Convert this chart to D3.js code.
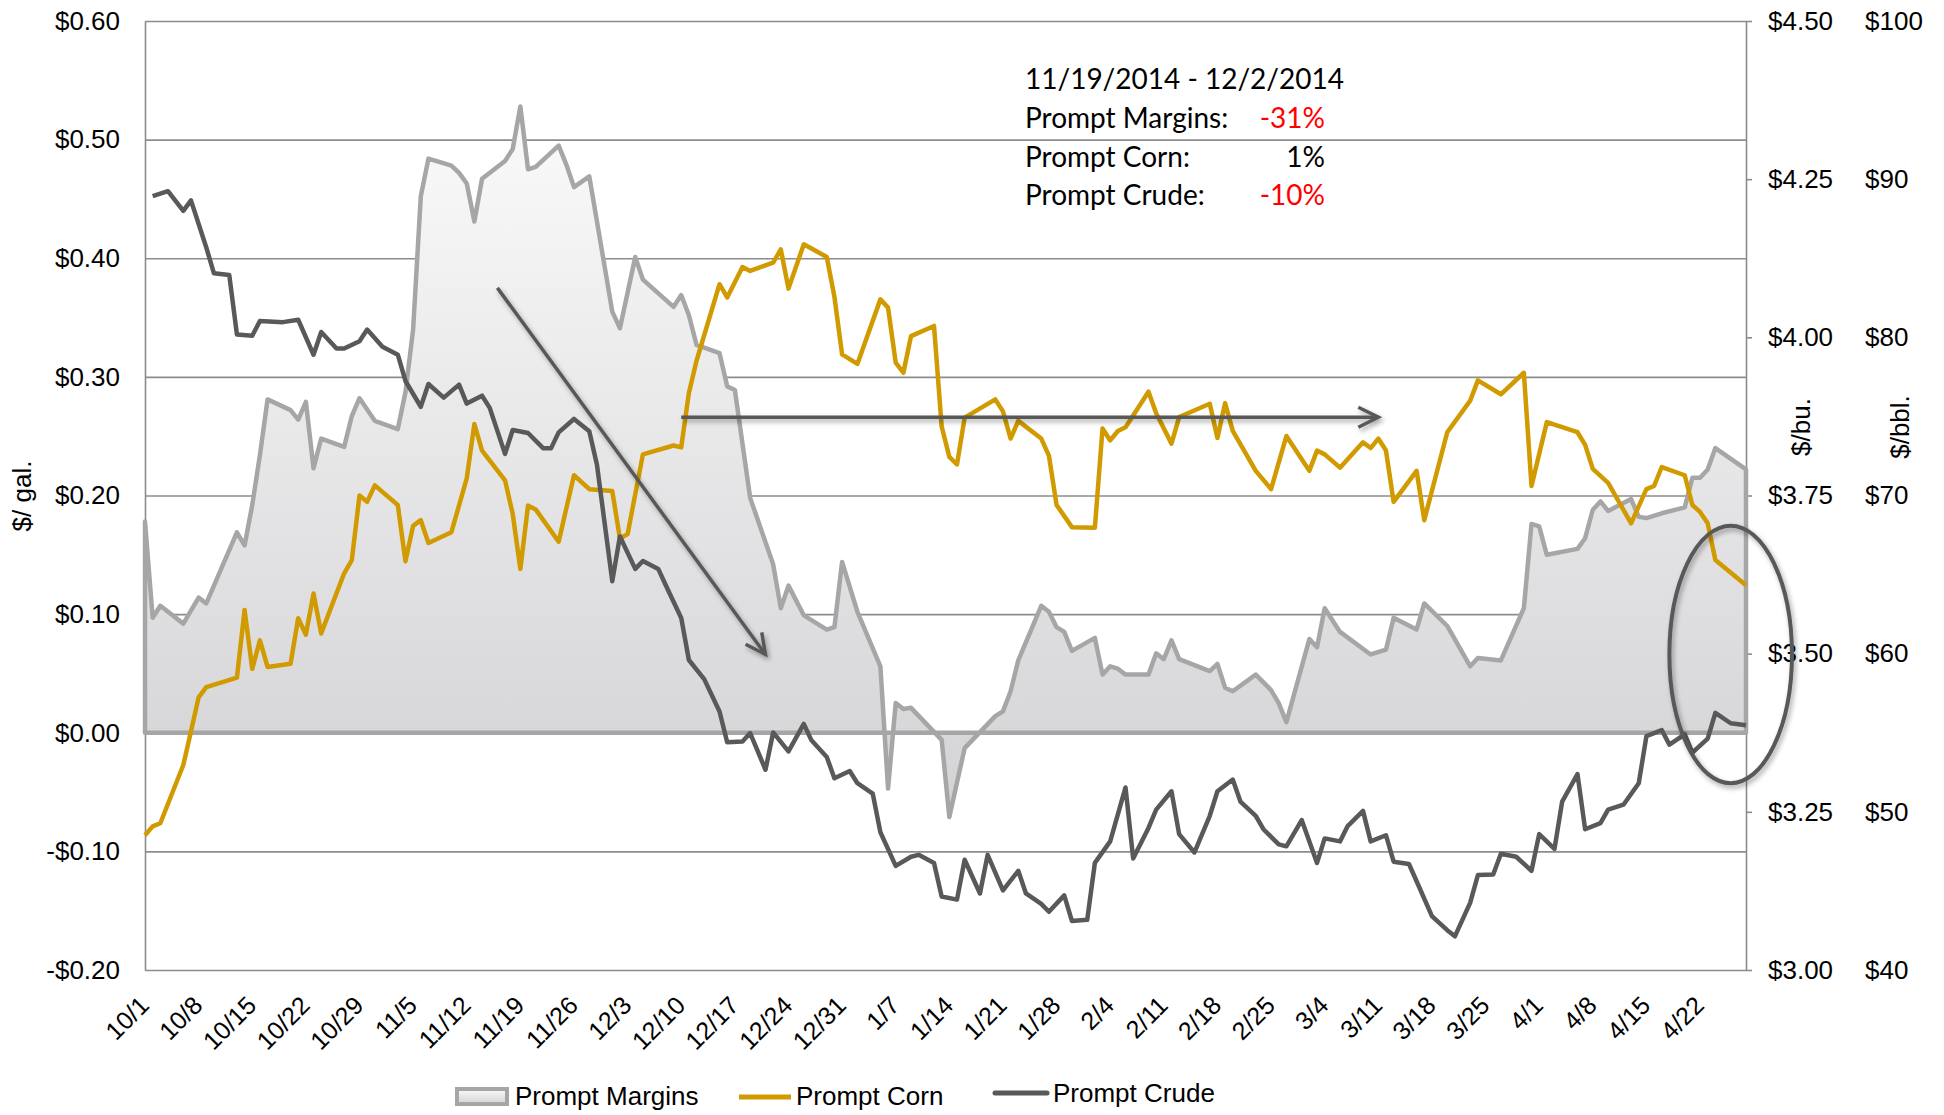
<!DOCTYPE html>
<html>
<head>
<meta charset="utf-8">
<script src="https://cdn.jsdelivr.net/npm/d3@7"></script>
<style>
  body { margin: 0; background: #ffffff; }
  #chart svg { display: block; }
</style>
</head>
<body>
<div id="chart"></div>
<script>
// Prompt margins ($/gal.)
var marginPoints = [
    ["10/1/14", 0.178], ["10/2/14", 0.097], ["10/3/14", 0.107], ["10/6/14", 0.092], ["10/7/14", 0.103],
    ["10/8/14", 0.114], ["10/9/14", 0.109], ["10/13/14", 0.169], ["10/14/14", 0.158], ["10/15/14", 0.192],
    ["10/16/14", 0.234], ["10/17/14", 0.281], ["10/20/14", 0.272], ["10/21/14", 0.264], ["10/22/14", 0.279],
    ["10/23/14", 0.223], ["10/24/14", 0.248], ["10/27/14", 0.241], ["10/28/14", 0.267], ["10/29/14", 0.282],
    ["10/31/14", 0.263], ["11/3/14", 0.256], ["11/4/14", 0.287], ["11/5/14", 0.340], ["11/6/14", 0.452],
    ["11/7/14", 0.484], ["11/10/14", 0.478], ["11/11/14", 0.472], ["11/12/14", 0.463], ["11/13/14", 0.431],
    ["11/14/14", 0.467], ["11/17/14", 0.482], ["11/18/14", 0.492], ["11/19/14", 0.528], ["11/20/14", 0.475],
    ["11/21/14", 0.477], ["11/24/14", 0.495], ["11/25/14", 0.479], ["11/26/14", 0.460], ["11/28/14", 0.469],
    ["12/1/14", 0.355], ["12/2/14", 0.341], ["12/4/14", 0.401], ["12/5/14", 0.382], ["12/9/14", 0.359],
    ["12/10/14", 0.369], ["12/11/14", 0.352], ["12/12/14", 0.327], ["12/15/14", 0.320], ["12/16/14", 0.292],
    ["12/17/14", 0.289], ["12/19/14", 0.198], ["12/22/14", 0.142], ["12/23/14", 0.105], ["12/24/14", 0.124],
    ["12/26/14", 0.099], ["12/29/14", 0.087], ["12/30/14", 0.089], ["12/31/14", 0.144], ["1/2/15", 0.102],
    ["1/5/15", 0.056], ["1/6/15", -0.047], ["1/7/15", 0.025], ["1/8/15", 0.020], ["1/9/15", 0.021],
    ["1/13/15", -0.006], ["1/14/15", -0.071], ["1/16/15", -0.013], ["1/20/15", 0.014], ["1/21/15", 0.018],
    ["1/22/15", 0.035], ["1/23/15", 0.061], ["1/26/15", 0.107], ["1/27/15", 0.102], ["1/28/15", 0.089],
    ["1/29/15", 0.085], ["1/30/15", 0.069], ["2/2/15", 0.080], ["2/3/15", 0.049], ["2/4/15", 0.056],
    ["2/5/15", 0.054], ["2/6/15", 0.049], ["2/9/15", 0.049], ["2/10/15", 0.067], ["2/11/15", 0.062],
    ["2/12/15", 0.078], ["2/13/15", 0.062], ["2/17/15", 0.052], ["2/18/15", 0.058], ["2/19/15", 0.038],
    ["2/20/15", 0.035], ["2/23/15", 0.049], ["2/25/15", 0.036], ["2/26/15", 0.025], ["2/27/15", 0.009],
    ["3/2/15", 0.079], ["3/3/15", 0.072], ["3/4/15", 0.105], ["3/6/15", 0.085], ["3/10/15", 0.066],
    ["3/12/15", 0.070], ["3/13/15", 0.097], ["3/16/15", 0.087], ["3/17/15", 0.109], ["3/20/15", 0.090],
    ["3/23/15", 0.056], ["3/24/15", 0.063], ["3/27/15", 0.061], ["3/30/15", 0.105], ["3/31/15", 0.176],
    ["4/1/15", 0.174], ["4/2/15", 0.150], ["4/6/15", 0.155], ["4/7/15", 0.164], ["4/8/15", 0.188],
    ["4/9/15", 0.195], ["4/10/15", 0.187], ["4/13/15", 0.197], ["4/14/15", 0.182], ["4/15/15", 0.181],
    ["4/17/15", 0.185], ["4/20/15", 0.190], ["4/21/15", 0.215], ["4/22/15", 0.215], ["4/23/15", 0.222],
    ["4/24/15", 0.240], ["4/28/15", 0.222]
];

// Prompt corn ($/bu.)
var cornPoints = [
    ["10/1/14", 3.213], ["10/2/14", 3.227], ["10/3/14", 3.232], ["10/6/14", 3.324], ["10/7/14", 3.377],
    ["10/8/14", 3.431], ["10/9/14", 3.447], ["10/13/14", 3.462], ["10/14/14", 3.569], ["10/15/14", 3.476],
    ["10/16/14", 3.521], ["10/17/14", 3.479], ["10/20/14", 3.484], ["10/21/14", 3.556], ["10/22/14", 3.530],
    ["10/23/14", 3.595], ["10/24/14", 3.532], ["10/27/14", 3.627], ["10/28/14", 3.648], ["10/29/14", 3.750],
    ["10/30/14", 3.740], ["10/31/14", 3.766], ["11/3/14", 3.735], ["11/4/14", 3.646], ["11/5/14", 3.702],
    ["11/6/14", 3.711], ["11/7/14", 3.675], ["11/10/14", 3.692], ["11/12/14", 3.777], ["11/13/14", 3.863],
    ["11/14/14", 3.821], ["11/17/14", 3.774], ["11/18/14", 3.721], ["11/19/14", 3.634], ["11/20/14", 3.734],
    ["11/21/14", 3.728], ["11/24/14", 3.677], ["11/26/14", 3.782], ["11/28/14", 3.760], ["12/1/14", 3.757],
    ["12/2/14", 3.682], ["12/3/14", 3.689], ["12/5/14", 3.815], ["12/9/14", 3.829], ["12/10/14", 3.826],
    ["12/11/14", 3.912], ["12/12/14", 3.963], ["12/15/14", 4.084], ["12/16/14", 4.063], ["12/17/14", 4.087],
    ["12/18/14", 4.111], ["12/19/14", 4.105], ["12/22/14", 4.118], ["12/23/14", 4.139], ["12/24/14", 4.077],
    ["12/26/14", 4.147], ["12/29/14", 4.127], ["12/30/14", 4.064], ["12/31/14", 3.973], ["1/2/15", 3.958],
    ["1/5/15", 4.060], ["1/6/15", 4.047], ["1/7/15", 3.960], ["1/8/15", 3.944], ["1/9/15", 4.002],
    ["1/12/15", 4.018], ["1/13/15", 3.859], ["1/14/15", 3.811], ["1/15/15", 3.799], ["1/16/15", 3.873],
    ["1/20/15", 3.902], ["1/21/15", 3.883], ["1/22/15", 3.840], ["1/23/15", 3.868], ["1/26/15", 3.840],
    ["1/27/15", 3.813], ["1/28/15", 3.735], ["1/30/15", 3.700], ["2/2/15", 3.699], ["2/3/15", 3.856],
    ["2/4/15", 3.837], ["2/5/15", 3.852], ["2/6/15", 3.858], ["2/9/15", 3.914], ["2/10/15", 3.880],
    ["2/12/15", 3.832], ["2/13/15", 3.874], ["2/17/15", 3.895], ["2/18/15", 3.841], ["2/19/15", 3.896],
    ["2/20/15", 3.852], ["2/23/15", 3.789], ["2/25/15", 3.760], ["2/27/15", 3.844], ["3/2/15", 3.789],
    ["3/3/15", 3.821], ["3/4/15", 3.815], ["3/6/15", 3.794], ["3/9/15", 3.834], ["3/10/15", 3.825],
    ["3/11/15", 3.840], ["3/12/15", 3.821], ["3/13/15", 3.740], ["3/16/15", 3.789], ["3/17/15", 3.711],
    ["3/20/15", 3.850], ["3/23/15", 3.900], ["3/24/15", 3.932], ["3/27/15", 3.910], ["3/30/15", 3.944],
    ["3/31/15", 3.765], ["4/2/15", 3.866], ["4/6/15", 3.850], ["4/7/15", 3.830], ["4/8/15", 3.792],
    ["4/10/15", 3.770], ["4/13/15", 3.706], ["4/15/15", 3.760], ["4/16/15", 3.765], ["4/17/15", 3.795],
    ["4/20/15", 3.782], ["4/21/15", 3.735], ["4/22/15", 3.724], ["4/23/15", 3.706], ["4/24/15", 3.648],
    ["4/28/15", 3.608]
];

// Prompt crude ($/bbl.)
var crudePoints = [
    ["10/2/14", 88.93], ["10/4/14", 89.24], ["10/6/14", 88.00], ["10/7/14", 88.66], ["10/9/14", 85.68],
    ["10/10/14", 84.05], ["10/12/14", 83.94], ["10/13/14", 80.18], ["10/15/14", 80.10], ["10/16/14", 81.03],
    ["10/19/14", 80.96], ["10/21/14", 81.11], ["10/23/14", 78.90], ["10/24/14", 80.34], ["10/26/14", 79.29],
    ["10/27/14", 79.29], ["10/29/14", 79.75], ["10/30/14", 80.49], ["11/1/14", 79.41], ["11/3/14", 78.90],
    ["11/4/14", 77.24], ["11/6/14", 75.61], ["11/7/14", 77.05], ["11/9/14", 76.19], ["11/11/14", 77.01],
    ["11/12/14", 75.81], ["11/14/14", 76.31], ["11/15/14", 75.54], ["11/17/14", 72.63], ["11/18/14", 74.14],
    ["11/20/14", 73.95], ["11/22/14", 72.98], ["11/23/14", 72.98], ["11/24/14", 73.99], ["11/26/14", 74.84],
    ["11/28/14", 74.06], ["11/29/14", 71.94], ["12/1/14", 64.58], ["12/2/14", 67.41], ["12/4/14", 65.36],
    ["12/5/14", 65.86], ["12/7/14", 65.36], ["12/8/14", 64.31], ["12/10/14", 62.26], ["12/11/14", 59.60],
    ["12/13/14", 58.39], ["12/15/14", 56.34], ["12/16/14", 54.40], ["12/18/14", 54.44], ["12/19/14", 54.98],
    ["12/21/14", 52.66], ["12/22/14", 55.02], ["12/24/14", 53.82], ["12/26/14", 55.56], ["12/27/14", 54.52],
    ["12/29/14", 53.47], ["12/30/14", 52.12], ["1/1/15", 52.58], ["1/2/15", 51.81], ["1/4/15", 51.15],
    ["1/5/15", 48.71], ["1/7/15", 46.58], ["1/9/15", 47.16], ["1/10/15", 47.28], ["1/12/15", 46.77],
    ["1/13/15", 44.65], ["1/15/15", 44.45], ["1/16/15", 46.97], ["1/18/15", 44.84], ["1/19/15", 47.28],
    ["1/21/15", 45.03], ["1/23/15", 46.27], ["1/24/15", 44.84], ["1/26/15", 44.18], ["1/27/15", 43.68],
    ["1/29/15", 44.72], ["1/30/15", 43.10], ["2/1/15", 43.17], ["2/2/15", 46.77], ["2/4/15", 48.13],
    ["2/6/15", 51.54], ["2/7/15", 47.05], ["2/9/15", 48.98], ["2/10/15", 50.14], ["2/12/15", 51.30],
    ["2/13/15", 48.59], ["2/15/15", 47.43], ["2/17/15", 49.75], ["2/18/15", 51.30], ["2/20/15", 52.04],
    ["2/21/15", 50.65], ["2/23/15", 49.75], ["2/24/15", 48.90], ["2/26/15", 47.94], ["2/27/15", 47.82],
    ["3/1/15", 49.48], ["3/3/15", 46.77], ["3/4/15", 48.32], ["3/6/15", 48.13], ["3/7/15", 49.10],
    ["3/9/15", 50.06], ["3/10/15", 48.13], ["3/12/15", 48.52], ["3/13/15", 46.85], ["3/15/15", 46.70],
    ["3/16/15", 45.61], ["3/18/15", 43.41], ["3/20/15", 42.52], ["3/21/15", 42.13], ["3/23/15", 44.26],
    ["3/24/15", 46.00], ["3/26/15", 46.04], ["3/27/15", 47.35], ["3/29/15", 47.16], ["3/31/15", 46.27],
    ["4/1/15", 48.59], ["4/3/15", 47.66], ["4/4/15", 50.65], ["4/6/15", 52.39], ["4/7/15", 48.90],
    ["4/9/15", 49.29], ["4/10/15", 50.14], ["4/12/15", 50.45], ["4/14/15", 51.81], ["4/15/15", 54.79],
    ["4/17/15", 55.17], ["4/18/15", 54.25], ["4/20/15", 54.90], ["4/21/15", 53.74], ["4/23/15", 54.63],
    ["4/24/15", 56.26], ["4/26/15", 55.60], ["4/28/15", 55.48]
];

// Axes: ticks and labels
var firstDay = "10/1/14";
var lastDay = "4/28/15";
var dateTicks = ["10/1/14", "10/8/14", "10/15/14", "10/22/14", "10/29/14", "11/5/14", "11/12/14",
    "11/19/14", "11/26/14", "12/3/14", "12/10/14", "12/17/14", "12/24/14", "12/31/14", "1/7/15",
    "1/14/15", "1/21/15", "1/28/15", "2/4/15", "2/11/15", "2/18/15", "2/25/15", "3/4/15", "3/11/15",
    "3/18/15", "3/25/15", "4/1/15", "4/8/15", "4/15/15", "4/22/15"];
var marginTicks = [-0.2, -0.1, 0, 0.1, 0.2, 0.3, 0.4, 0.5, 0.6];
var cornTicks = [3.00, 3.25, 3.50, 3.75, 4.00, 4.25, 4.50];
var crudeTicks = [40, 50, 60, 70, 80, 90, 100];
var axisTitles = ["$/ gal.", "$/bu.", "$/bbl."];
var legendNames = ["Prompt Margins", "Prompt Corn", "Prompt Crude"];

// Text box in the chart
var noteTitle = "11/19/2014 - 12/2/2014";
var noteRows = ["Prompt Margins:", "Prompt Corn:", "Prompt Crude:"];
var noteChanges = ["-31%", "1%", "-10%"];

function init() {
    var w = 1944, h = 1115;
    var left = 145, right = 1746, top = 21, bottom = 970;

    var gridColor = "#8c8c8c";
    var marginColor = "#a6a6a6";
    var cornColor = "#d09a00";
    var crudeColor = "#595959";
    var axisFont = "'Liberation Sans', Arial, sans-serif";
    var noteFont = "Lato, 'Open Sans', sans-serif";

    var parseDate = d3.utcParse("%m/%d/%y");

    var svg = d3.select("#chart")
                .append("svg")
                .attr("width", w)
                .attr("height", h);

    svg.append("rect").attr("width", w).attr("height", h).attr("fill", "#ffffff");

    // Scales: one time axis, three value axes
    var x = d3.scaleUtc()
              .domain([parseDate(firstDay), parseDate(lastDay)])
              .range([left, right]);
    var yMargin = d3.scaleLinear().domain([-0.2, 0.6]).range([bottom, top]);
    var yCorn = d3.scaleLinear().domain([3, 4.5]).range([bottom, top]);
    var yCrude = d3.scaleLinear().domain([40, 100]).range([bottom, top]);

    var margins = marginPoints.map(function(p) { return { date: parseDate(p[0]), value: p[1] }; });
    var corn = cornPoints.map(function(p) { return { date: parseDate(p[0]), value: p[1] }; });
    var crude = crudePoints.map(function(p) { return { date: parseDate(p[0]), value: p[1] }; });

    // defs: area gradient, soft shadow, open arrow head
    var defs = svg.append("defs");
    var grad = defs.append("linearGradient")
                   .attr("id", "marginFill")
                   .attr("x1", 0).attr("y1", 0).attr("x2", 0).attr("y2", 1);
    grad.append("stop").attr("offset", "0%").attr("stop-color", "#fafafa");
    grad.append("stop").attr("offset", "100%").attr("stop-color", "#d3d3d6");

    var shadow = defs.append("filter")
                     .attr("id", "shadow")
                     .attr("filterUnits", "userSpaceOnUse")
                     .attr("x", 0).attr("y", 0).attr("width", w).attr("height", h);
    shadow.append("feDropShadow")
          .attr("dx", 2).attr("dy", 3)
          .attr("stdDeviation", 2.5)
          .attr("flood-color", "#000")
          .attr("flood-opacity", 0.35);

    defs.append("marker")
        .attr("id", "arrowHead")
        .attr("viewBox", "-2 -12 26 24")
        .attr("markerUnits", "userSpaceOnUse")
        .attr("markerWidth", 26)
        .attr("markerHeight", 24)
        .attr("refX", 20)
        .attr("refY", 0)
        .attr("orient", "auto")
        .append("path")
        .attr("d", "M0,-10L20,0L0,10")
        .attr("fill", "none")
        .attr("stroke", crudeColor)
        .attr("stroke-width", 3.5)
        .attr("stroke-linejoin", "miter");

    // Horizontal gridlines
    var grid = svg.append("g")
                  .attr("transform", "translate(" + left + ",0)")
                  .call(d3.axisLeft(yMargin)
                          .tickValues(marginTicks)
                          .tickSize(-(right - left))
                          .tickFormat(""));
    grid.select(".domain").remove();
    grid.selectAll("line").attr("stroke", gridColor).attr("stroke-width", 1.6);

    // Left axis ($/gal.)
    var money = function(d) {
        return (d < 0 ? "-$" : "$") + Math.abs(d).toFixed(2);
    };
    var leftAxis = svg.append("g")
                      .attr("transform", "translate(" + left + ",0)")
                      .call(d3.axisLeft(yMargin)
                              .tickValues(marginTicks)
                              .tickSize(0)
                              .tickSizeOuter(0)
                              .tickPadding(25)
                              .tickFormat(money));
    leftAxis.select(".domain").attr("stroke", gridColor).attr("stroke-width", 1.6);
    leftAxis.selectAll("text")
            .attr("font-family", axisFont)
            .attr("font-size", 26)
            .attr("fill", "#000");

    // Right axis ($/bu.)
    var cornAxis = svg.append("g")
                      .attr("transform", "translate(" + right + ",0)")
                      .call(d3.axisRight(yCorn)
                              .tickValues(cornTicks)
                              .tickSize(6)
                              .tickSizeOuter(0)
                              .tickPadding(16)
                              .tickFormat(function(d) { return "$" + d.toFixed(2); }));
    cornAxis.select(".domain").attr("stroke", gridColor).attr("stroke-width", 1.6);
    cornAxis.selectAll("line").attr("stroke", gridColor).attr("stroke-width", 1.6);
    cornAxis.selectAll("text")
            .attr("font-family", axisFont)
            .attr("font-size", 26)
            .attr("fill", "#000");

    // Second right labels ($/bbl.)
    var crudeAxis = svg.append("g")
                       .attr("transform", "translate(1865,0)")
                       .call(d3.axisRight(yCrude)
                               .tickValues(crudeTicks)
                               .tickSize(0)
                               .tickPadding(0)
                               .tickFormat(function(d) { return "$" + d; }));
    crudeAxis.select(".domain").remove();
    crudeAxis.selectAll("text")
             .attr("font-family", axisFont)
             .attr("font-size", 26)
             .attr("fill", "#000");

    // Bottom axis: weekly dates, slanted
    var bottomAxis = svg.append("g")
                        .attr("transform", "translate(0," + bottom + ")")
                        .call(d3.axisBottom(x)
                                .tickValues(dateTicks.map(parseDate))
                                .tickSize(0)
                                .tickFormat(d3.utcFormat("%-m/%-d")));
    bottomAxis.select(".domain").remove();
    bottomAxis.selectAll("text")
              .attr("x", 0)
              .attr("y", 0)
              .attr("dy", 0)
              .attr("transform", "translate(5,37) rotate(-45)")
              .style("text-anchor", "end")
              .attr("font-family", axisFont)
              .attr("font-size", 25)
              .attr("fill", "#000");

    // Axis titles
    var titlePos = [[31, 496], [1810, 427], [1909, 427]];
    svg.selectAll("text.axisTitle")
       .data(axisTitles)
       .enter()
       .append("text")
       .attr("class", "axisTitle")
       .attr("transform", function(d, i) {
           return "translate(" + titlePos[i][0] + "," + titlePos[i][1] + ") rotate(-90)";
       })
       .attr("text-anchor", "middle")
       .attr("font-family", axisFont)
       .attr("font-size", 26)
       .attr("fill", "#000")
       .text(function(d) { return d; });

    // Margins area (filled down to zero, bordered all round)
    var area = d3.area()
                 .x(function(d) { return x(d.date); })
                 .y0(yMargin(0))
                 .y1(function(d) { return yMargin(d.value); });
    svg.append("path")
       .datum(margins)
       .attr("d", area)
       .attr("fill", "url(#marginFill)")
       .attr("stroke", marginColor)
       .attr("stroke-width", 4.5)
       .attr("stroke-linejoin", "round");

    // Corn and crude lines
    var cornLine = d3.line()
                     .x(function(d) { return x(d.date); })
                     .y(function(d) { return yCorn(d.value); });
    svg.append("path")
       .datum(corn)
       .attr("d", cornLine)
       .attr("fill", "none")
       .attr("stroke", cornColor)
       .attr("stroke-width", 4.5)
       .attr("stroke-linejoin", "round");

    var crudeLine = d3.line()
                      .x(function(d) { return x(d.date); })
                      .y(function(d) { return yCrude(d.value); });
    svg.append("path")
       .datum(crude)
       .attr("d", crudeLine)
       .attr("fill", "none")
       .attr("stroke", crudeColor)
       .attr("stroke-width", 4.5)
       .attr("stroke-linejoin", "round");

    // Annotation arrows and the ring, placed in data space
    var arrows = [
        [["11/16/14", 0.375], ["12/21/14", 0.066]],
        [["12/10/14", 0.266], ["3/11/15", 0.266]]
    ];
    var notes = svg.append("g").attr("filter", "url(#shadow)");
    notes.selectAll("line")
         .data(arrows)
         .enter()
         .append("line")
         .attr("x1", function(d) { return x(parseDate(d[0][0])); })
         .attr("y1", function(d) { return yMargin(d[0][1]); })
         .attr("x2", function(d) { return x(parseDate(d[1][0])); })
         .attr("y2", function(d) { return yMargin(d[1][1]); })
         .attr("stroke", crudeColor)
         .attr("stroke-width", 3.5)
         .attr("marker-end", "url(#arrowHead)");

    var ringCenter = ["4/26/15", 0.066];
    var cx = x(parseDate(ringCenter[0]));
    var cy = yMargin(ringCenter[1]);
    notes.append("ellipse")
         .attr("cx", cx)
         .attr("cy", cy)
         .attr("rx", x(parseDate("5/4/15")) - cx)
         .attr("ry", yMargin(ringCenter[1] - 0.1085) - cy)
         .attr("fill", "none")
         .attr("stroke", crudeColor)
         .attr("stroke-width", 4);

    // Text box with % changes
    var box = svg.append("g")
                 .attr("font-family", noteFont)
                 .attr("font-size", 28)
                 .attr("fill", "#000");
    box.append("text").attr("x", 1025).attr("y", 89).text(noteTitle);
    box.selectAll("text.rowName")
       .data(noteRows)
       .enter()
       .append("text")
       .attr("class", "rowName")
       .attr("x", 1025)
       .attr("y", function(d, i) { return 128 + i * 38.5; })
       .text(function(d) { return d; });
    box.selectAll("text.rowValue")
       .data(noteChanges)
       .enter()
       .append("text")
       .attr("class", "rowValue")
       .attr("x", 1325)
       .attr("y", function(d, i) { return 128 + i * 38.5; })
       .attr("text-anchor", "end")
       .attr("fill", function(d) { return d.charAt(0) === "-" ? "#ff0000" : "#000"; })
       .text(function(d) { return d; });

    // Legend along the bottom
    var legend = svg.append("g")
                    .attr("font-family", axisFont)
                    .attr("font-size", 26)
                    .attr("fill", "#000");
    legend.append("rect")
          .attr("x", 457).attr("y", 1089)
          .attr("width", 50).attr("height", 15)
          .attr("fill", "url(#marginFill)")
          .attr("stroke", marginColor)
          .attr("stroke-width", 4);
    legend.append("line")
          .attr("x1", 739).attr("x2", 791)
          .attr("y1", 1097).attr("y2", 1097)
          .attr("stroke", cornColor)
          .attr("stroke-width", 5);
    legend.append("line")
          .attr("x1", 995).attr("x2", 1047)
          .attr("y1", 1093).attr("y2", 1093)
          .attr("stroke", crudeColor)
          .attr("stroke-width", 5)
          .attr("stroke-linecap", "round");
    var legendPos = [[515, 1105], [796, 1105], [1053, 1102]];
    legend.selectAll("text")
          .data(legendNames)
          .enter()
          .append("text")
          .attr("x", function(d, i) { return legendPos[i][0]; })
          .attr("y", function(d, i) { return legendPos[i][1]; })
          .text(function(d) { return d; });
}

window.onload = init;
</script>
</body>
</html>
